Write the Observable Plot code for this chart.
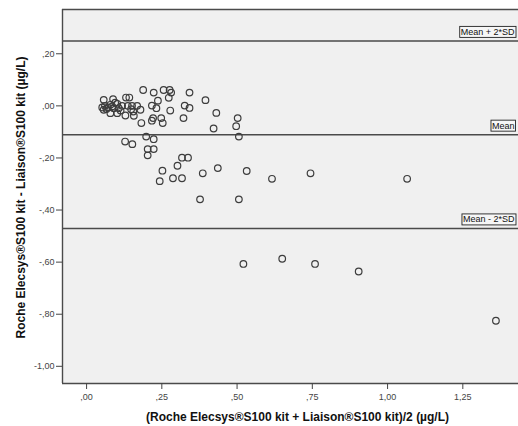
<!DOCTYPE html>
<html><head><meta charset="utf-8">
<script src="https://cdn.jsdelivr.net/npm/d3@7"></script>
<script src="https://cdn.jsdelivr.net/npm/@observablehq/plot@0.6"></script>
<style>
html,body{margin:0;padding:0;background:#fff;overflow:hidden;}
</style></head><body><div id="chart"></div>
<script>
// mean of the two kits (x) and difference Roche - Liaison (y), µg/L
const meanVals = [0.052,0.057,0.061,0.071,0.057,0.079,0.088,0.090,0.102,0.107,0.079,0.102,0.118,0.129,0.137,0.151,0.155,0.157,0.168,0.179,0.148,0.131,0.142,0.066,0.095,0.113,0.085,
  0.188,0.223,0.256,0.276,0.281,0.342,0.237,0.273,0.217,0.232,0.278,0.326,0.342,0.221,0.248,0.322,0.182,0.217,0.253,0.395,0.431,0.502,0.497,0.422,0.506,
  0.128,0.152,0.198,0.223,0.203,0.223,0.203,0.317,0.337,0.302,0.252,0.436,0.386,0.243,0.287,0.317,0.377,0.506,0.532,0.616,0.744,1.065,
  0.521,0.650,0.759,0.904,1.360];
const diffVals = [-0.006,0.023,0.000,-0.006,-0.015,0.004,0.026,-0.009,0.008,-0.009,-0.028,-0.028,0.000,-0.037,0.000,0.000,-0.022,-0.038,0.000,-0.015,-0.013,0.032,0.032,-0.012,0.012,-0.018,-0.002,
  0.061,0.051,0.061,0.061,0.051,0.051,0.020,0.031,0.001,-0.009,-0.018,0.001,-0.008,-0.047,-0.047,-0.047,-0.066,-0.057,-0.066,0.022,-0.027,-0.047,-0.078,-0.087,-0.118,
  -0.137,-0.147,-0.118,-0.128,-0.166,-0.166,-0.190,-0.199,-0.199,-0.230,-0.249,-0.239,-0.259,-0.289,-0.278,-0.278,-0.359,-0.359,-0.250,-0.280,-0.259,-0.280,
  -0.607,-0.587,-0.607,-0.636,-0.825];
const yTicks = [0.2, 0, -0.2, -0.4, -0.6, -0.8, -1.0];
const xTicks = [0, 0.25, 0.5, 0.75, 1.0, 1.25];
const refValues = [0.249, -0.111, -0.471];
const refLabels = ["Mean + 2*SD", "Mean", "Mean - 2*SD"];
const xLabel = "(Roche Elecsys®S100 kit + Liaison®S100 kit)/2 (µg/L)";
const yLabel = "Roche Elecsys®S100 kit - Liaison®S100 kit (µg/L)";

const points = meanVals.map((m, i) => ({mean: m, diff: diffVals[i]}));
const refs = refValues.map((v, i) => ({value: v, label: refLabels[i]}));
const fmt = v => {
  let s = Math.abs(v).toFixed(2).replace(".", ",");
  if (s.startsWith("0,")) s = s.slice(1);
  return (v < -1e-9 ? "-" : "") + s;
};
const xDomain = [-0.08, 1.435];
const yDomain = [-1.066, 0.37];
const lineColor = "#4a4a4a";

const chart = Plot.plot({
  width: 518, height: 426,
  marginTop: 9, marginBottom: 43, marginLeft: 62, marginRight: 0,
  style: {fontFamily: "'Liberation Sans', Arial, sans-serif", background: "#fff"},
  x: {domain: xDomain},
  y: {domain: yDomain},
  marks: [
    Plot.frame({fill: "#f0f0f0", stroke: null}),
    Plot.ruleY(refs, {y: "value", stroke: lineColor, strokeWidth: 1.4}),
    Plot.ruleX([xDomain[0]], {stroke: lineColor, strokeWidth: 1.4}),
    Plot.ruleY([yDomain[0], yDomain[1]], {stroke: lineColor, strokeWidth: 1.4}),
    Plot.dot(points, {x: "mean", y: "diff", r: 3.3, stroke: "#3d3d3d", strokeWidth: 1.2, fill: "none"}),
    Plot.text(refs, {frameAnchor: "right", y: "value", text: "label", textAnchor: "end", dx: -4, dy: -9, fontSize: 9, fill: "#111"}),
    Plot.axisY({ticks: yTicks, tickFormat: fmt, tickSize: 6, tickPadding: 2, label: null, fontSize: 9, color: "#444"}),
    Plot.axisX({ticks: xTicks, tickFormat: fmt, tickSize: 6, tickPadding: 4, label: null, fontSize: 9, color: "#444"}),
    Plot.text([yLabel], {frameAnchor: "left", textAnchor: "middle", lineAnchor: "middle", rotate: -90, dx: -41, dy: 1, fontSize: 12, fontWeight: "bold", fill: "#111"}),
    Plot.text([xLabel], {frameAnchor: "bottom", textAnchor: "middle", lineAnchor: "middle", dx: 7, dy: 34, fontSize: 12, fontWeight: "bold", fill: "#111"})
  ]
});
document.getElementById("chart").appendChild(chart);

// boxes around the reference line labels
chart.querySelectorAll("text").forEach(t => {
  if (!refLabels.includes(t.textContent)) return;
  const bb = t.getBBox();
  const rect = document.createElementNS("http://www.w3.org/2000/svg", "rect");
  rect.setAttribute("x", bb.x - 1);
  rect.setAttribute("y", bb.y - 0.5);
  rect.setAttribute("width", bb.width + 2);
  rect.setAttribute("height", bb.height + 1);
  rect.setAttribute("fill", "#f6f6f6");
  rect.setAttribute("stroke", "#222");
  rect.setAttribute("stroke-width", "0.9");
  const tr = t.getAttribute("transform");
  if (tr) rect.setAttribute("transform", tr);
  t.parentNode.insertBefore(rect, t);
});
</script></body></html>
